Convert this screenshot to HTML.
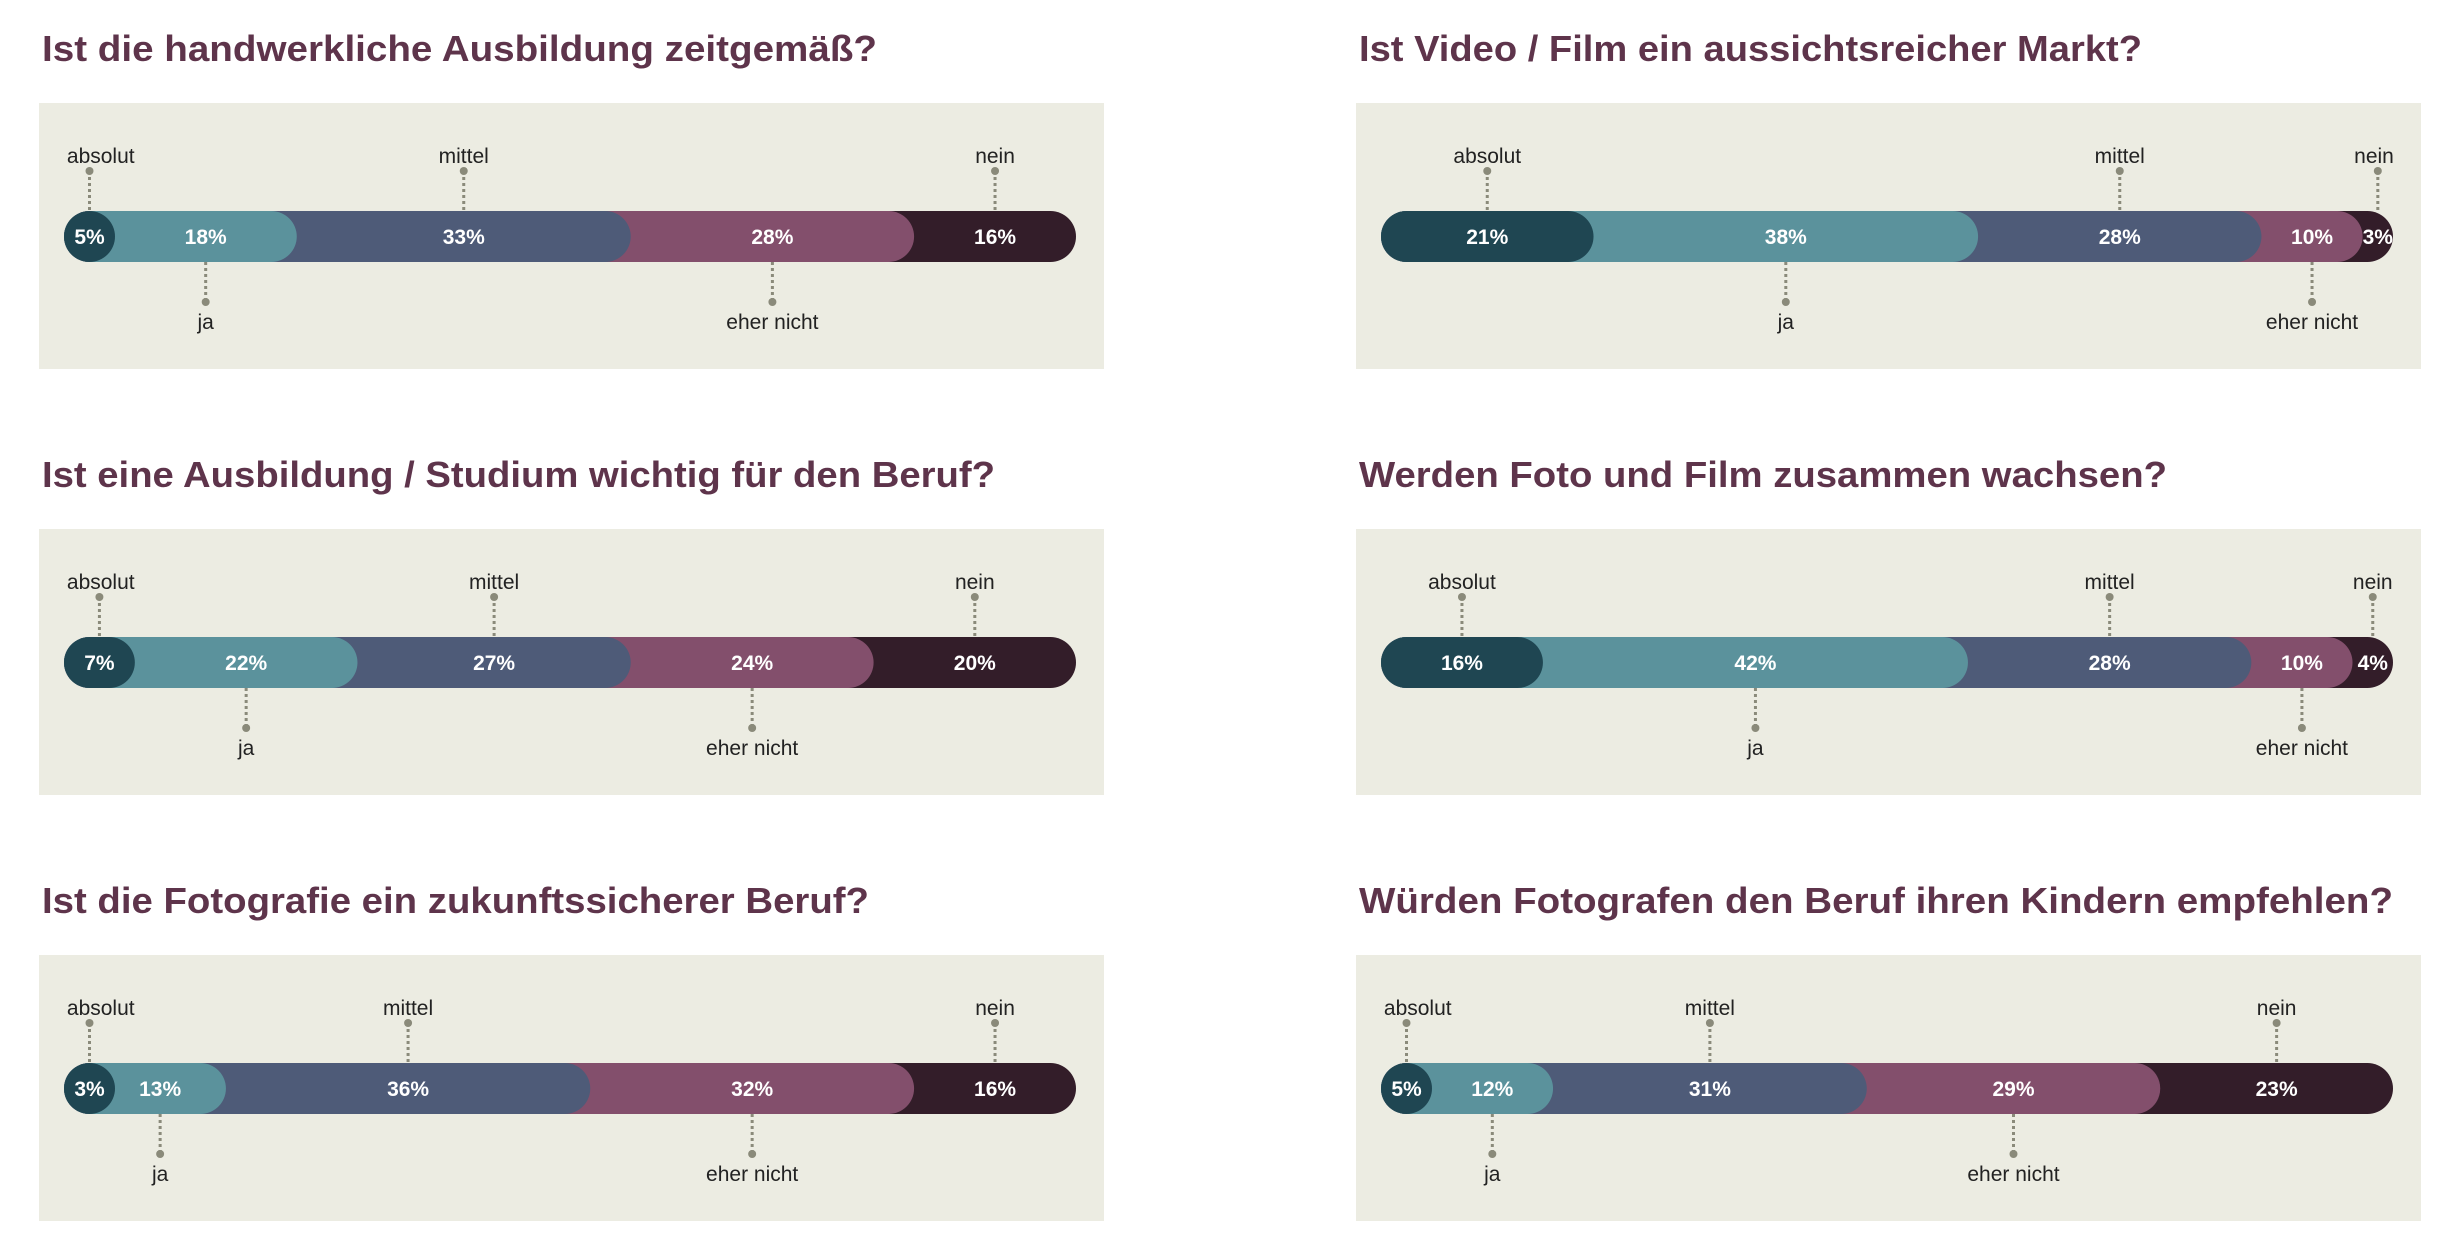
<!DOCTYPE html>
<html><head><meta charset="utf-8"><style>
html,body{margin:0;padding:0;background:#fff;}
svg{display:block;}
</style></head><body>
<svg id="s" width="2452" height="1260" xmlns="http://www.w3.org/2000/svg"></svg>
<script>
const C=["#1f4652","#5b929c","#4e5b78","#834f6c","#331d29"];
const charts=[
 {t:"Ist die handwerkliche Ausbildung zeitgemäß?",x:0,r:0,tw:835,v:[5,18,33,28,16]},
 {t:"Ist Video / Film ein aussichtsreicher Markt?",x:1317,r:0,tw:783,v:[21,38,28,10,3]},
 {t:"Ist eine Ausbildung / Studium wichtig für den Beruf?",x:0,r:1,tw:953,v:[7,22,27,24,20]},
 {t:"Werden Foto und Film zusammen wachsen?",x:1317,r:1,tw:808,v:[16,42,28,10,4]},
 {t:"Ist die Fotografie ein zukunftssicherer Beruf?",x:0,r:2,tw:827,v:[3,13,36,32,16]},
 {t:"Würden Fotografen den Beruf ihren Kindern empfehlen?",x:1317,r:2,tw:1034,v:[5,12,31,29,23]}
];
const names=["absolut","ja","mittel","eher nicht","nein"];
let h="";
charts.forEach(c=>{
 const dy=c.r*426, ox=c.x;
 h+=`<text x="${ox+42}" y="${dy+61}" font-family="Liberation Sans, sans-serif" font-weight="bold" font-size="36" fill="#5e344b" textLength="${c.tw}" lengthAdjust="spacingAndGlyphs">${c.t}</text>`;
 h+=`<rect x="${ox+39}" y="${dy+103}" width="1065" height="266" fill="#ecece2"/>`;
 const bx=ox+64, bw=1012, by=dy+211, bh=51, r=bh/2;
 let cum=[0];c.v.forEach(v=>cum.push(cum[cum.length-1]+v));
 for(let i=4;i>=0;i--){
   let w=Math.max(bw*cum[i+1]/100,bh);
   h+=`<rect x="${bx}" y="${by}" width="${w}" height="${bh}" rx="${r}" fill="${C[i]}"/>`;
 }
 for(let i=0;i<5;i++){
   let s=bw*cum[i]/100, e=Math.max(bw*cum[i+1]/100,bh);
   let cx=bx+(s+e)/2; if(i==0&&e==bh) cx=bx+r;
   cx=Math.min(cx,bx+bw-12);
   h+=`<text x="${cx}" y="${by+33}" text-anchor="middle" font-family="Liberation Sans, sans-serif" font-weight="bold" font-size="21" fill="#fff">${c.v[i]}%</text>`;
   const top=(i%2==0);
   let lx=cx;
   let y1=top?dy+171:dy+262, y2=top?dy+211:dy+302, dotY=top?dy+171:dy+302;
   h+=`<line x1="${lx}" y1="${y1}" x2="${lx}" y2="${y2}" stroke="#8a8a7a" stroke-width="3" stroke-dasharray="3,3"/>`;
   h+=`<circle cx="${lx}" cy="${dotY}" r="4" fill="#8a8a7a"/>`;
   let tw=names[i].length*10.5;
   let tx=Math.max(bx+tw/2,Math.min(bx+bw-tw/2+2,lx));
   h+=`<text x="${tx}" y="${top?dy+163:dy+329}" text-anchor="middle" font-family="Liberation Sans, sans-serif" font-size="21" fill="#222">${names[i]}</text>`;
 }
});
document.getElementById("s").innerHTML=h;
</script>
</body></html>
